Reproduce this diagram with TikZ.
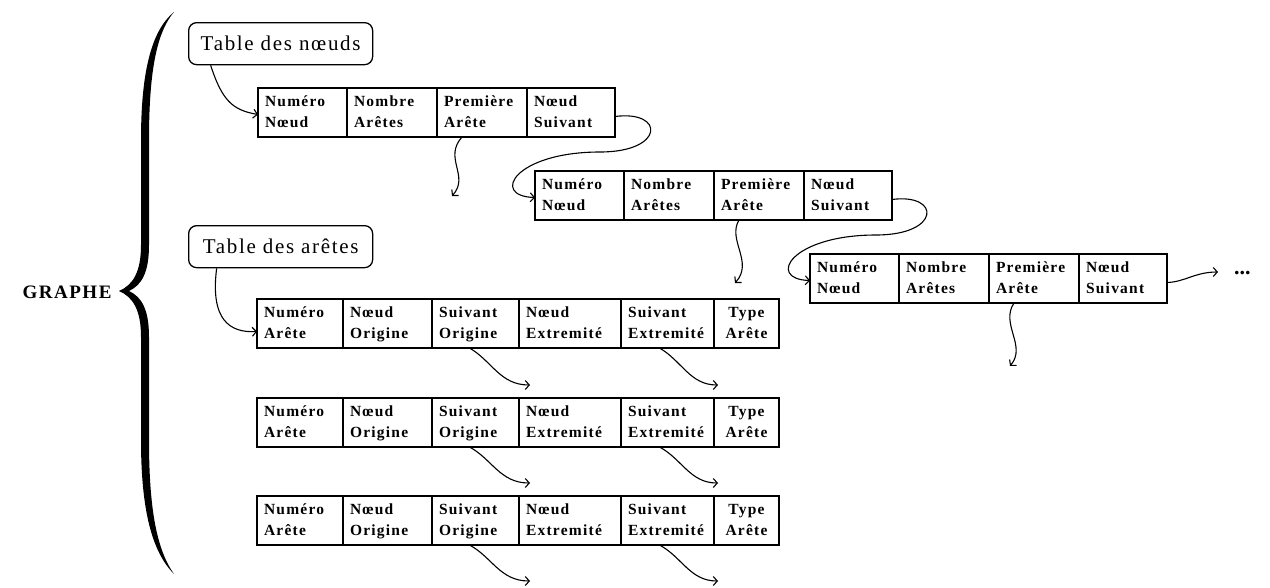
\documentclass[tikz,border=0pt]{standalone}
\usepackage{fontspec}
\setmainfont{Liberation Serif}
\newfontfamily\cellfont[LetterSpace=8]{Liberation Serif}
\newfontfamily\titlefont[LetterSpace=8]{Liberation Serif}
\usetikzlibrary{arrows.meta}
\begin{document}
\begin{tikzpicture}[x=1pt,y=-1pt,
  cell/.style={draw, line width=1.3pt, outer sep=0pt, minimum height=49pt, inner xsep=7pt, inner ysep=0pt,
    align=left, anchor=north west, font=\cellfont\bfseries\fontsize{15.5}{21}\selectfont,
    execute at begin node=\strut, execute at end node=\strut},
  ccell/.style={cell, align=center},
  tblbox/.style={draw, line width=1.3pt, rounded corners=8pt, minimum width=184pt,
    minimum height=42pt, inner sep=0pt, anchor=north west,
    font=\titlefont\fontsize{21}{22}\selectfont},
  arr/.style={line width=1.1pt, -{Straight Barb[length=4pt,width=9pt,line width=1.1pt]}},
]
\useasboundingbox (0,0) rectangle (1270,587);

% brace
\fill (174,12) .. controls (152,30) and (141,70) .. (141,140) -- (141,245)
  .. controls (141,272) and (133,285) .. (119,291)
  .. controls (133,297) and (141,310) .. (141,337) -- (141,440)
  .. controls (141,510) and (152,552) .. (174,574)
  .. controls (157,550) and (149,510) .. (149,440) -- (149,337)
  .. controls (149,310) and (142,297) .. (129,291)
  .. controls (142,285) and (149,272) .. (149,245) -- (149,140)
  .. controls (149,70) and (157,32) .. (174,12) -- cycle;
\node[font=\titlefont\bfseries\fontsize{19}{20}\selectfont] (graphe) at (67,292) {GRAPHE};

% title boxes
\node[tblbox] (tn) at (188,22) {Table des nœuds};
\node[tblbox] (ta) at (188,225) {Table des arêtes};

% node tables
\foreach \k/\x/\y in {1/258/88, 2/535/171, 3/810/254}{
  \node[cell, text width=75pt] (n\k a) at (\x,\y) {Numéro\\Nœud};
  \node[cell, text width=76pt] (n\k b) at (n\k a.north east) {Nombre\\Arêtes};
  \node[cell, text width=76pt] (n\k c) at (n\k b.north east) {Première\\Arête};
  \node[cell, text width=74pt] (n\k d) at (n\k c.north east) {Nœud\\Suivant};
}

% edge tables
\foreach \k/\y in {1/299, 2/398, 3/496}{
  \node[cell, text width=72pt] (e\k a) at (257,\y) {Numéro\\Arête};
  \node[cell, text width=75pt] (e\k b) at (e\k a.north east) {Nœud\\Origine};
  \node[cell, text width=73pt] (e\k c) at (e\k b.north east) {Suivant\\Origine};
  \node[cell, text width=88pt] (e\k d) at (e\k c.north east) {Nœud\\Extremité};
  \node[cell, text width=79pt] (e\k e) at (e\k d.north east) {Suivant\\Extremité};
  \node[ccell, text width=51pt] (e\k f) at (e\k e.north east) {Type\\Arête};
}

% entry arrows
\draw[arr] ([xshift=-70pt]tn.south) .. controls (222,100) and (232,110) .. ([yshift=-2pt]n1a.west);
\draw[arr] ([xshift=-64pt]ta.south) .. controls (210,320) and (230,333) .. ([yshift=-8pt]e1a.west);

% next-node loops
\draw[arr] ([yshift=-4pt]n1d.east) .. controls (665,110) and (665,152) .. (600,152)
  .. controls (515,152) and (490,196) .. ([yshift=-2pt]n2a.west);
\draw[arr] ([yshift=-4pt]n2d.east) .. controls (941,193) and (941,235) .. (876,235)
  .. controls (791,235) and (766,279) .. ([yshift=-2pt]n3a.west);
\coordinate (dots) at (1218,272);
\draw[arr] ([yshift=-4pt]n3d.east) .. controls (1185,282) and (1195,272) .. (dots);
\node[font=\bfseries\fontsize{22}{22}\selectfont, anchor=west, inner sep=0pt] (etc) at (1234,273) {...};

% first-edge arrows
\coordinate (f1) at (452,196);
\coordinate (f2) at (735,283);
\coordinate (f3) at (1010,366);
\draw[arr] ([xshift=-20pt]n1c.south) .. controls (443,158) and (470,176) .. (f1);
\draw[arr] ([xshift=-20pt]n2c.south) .. controls (727,240) and (754,262) .. (f2);
\draw[arr] ([xshift=-20pt]n3c.south) .. controls (1000,324) and (1027,346) .. (f3);

% next-edge arrows
\foreach \k/\y in {1/385, 2/483, 3/581}{
  \coordinate (so\k) at (530,\y);
  \coordinate (se\k) at (718,\y);
  \draw[arr] ([xshift=-6pt]e\k c.south) .. controls (492,\y-24) and (500,\y) .. (so\k);
  \draw[arr] ([xshift=-8pt]e\k e.south) .. controls (682,\y-24) and (690,\y) .. (se\k);
}
\end{tikzpicture}
\end{document}
